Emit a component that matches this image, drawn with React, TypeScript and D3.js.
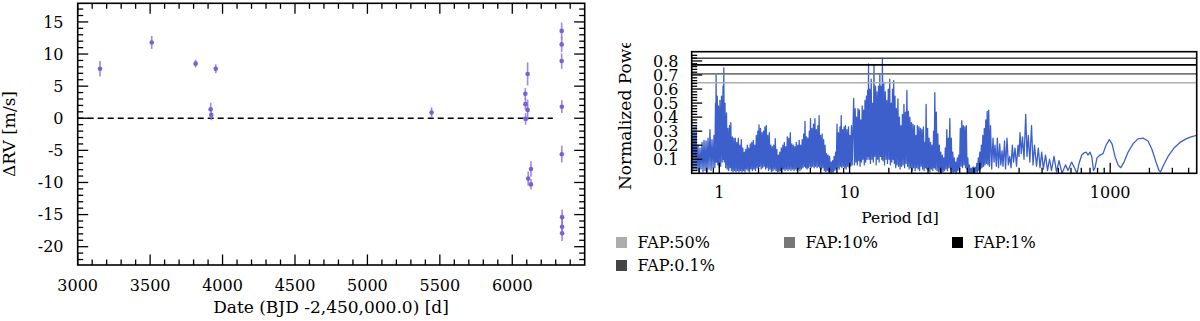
import * as d3 from 'd3';

// radial velocity residuals (left panel)
const rvDates = [3154, 3511, 3814, 3918, 3922, 3953, 5443, 6090, 6091, 6092, 6106, 6106, 6110, 6129, 6129, 6341, 6341, 6341, 6342, 6342, 6344, 6344, 6344];
const rvValues = [7.7, 11.8, 8.5, 1.4, 0.5, 7.7, 0.9, 3.8, 2.2, -0.1, 6.9, 1.3, -9.4, -7.9, -10.3, 13.6, 11.5, 8.9, 1.8, -5.6, -15.4, -16.9, -17.9];
const rvErrors = [1.2, 1.0, 0.6, 1.0, 0.8, 0.7, 0.8, 0.9, 0.9, 0.9, 1.8, 1.6, 1.1, 1.2, 0.8, 1.3, 1.2, 1.2, 1.0, 1.3, 1.2, 1.2, 1.2];

const dateTicks = [3000, 3500, 4000, 4500, 5000, 5500, 6000];
const rvTicks = [-20, -15, -10, -5, 0, 5, 10, 15];

// GLS periodogram (right panel): [period in days, normalized power]
const periodogram: [number, number][] = [
  [0.617, 0.30], [0.628, 0.02], [0.640, 0.33], [0.651, 0.03], [0.663, 0.34], [0.674, 0.02], [0.686, 0.20], [0.699, 0.01],
  [0.711, 0.18], [0.724, 0.03], [0.737, 0.22], [0.750, 0.01], [0.763, 0.235], [0.777, 0.02], [0.791, 0.23], [0.805, 0.01],
  [0.819, 0.25], [0.834, 0.03], [0.848, 0.31], [0.864, 0.02], [0.879, 0.24], [0.895, 0.04], [0.911, 0.27], [0.924, 0.04],
  [0.935, 0.50], [0.940, 0.08], [0.945, 0.70], [0.953, 0.08], [0.964, 0.55], [0.974, 0.06], [0.986, 0.48], [0.998, 0.04],
  [1.012, 0.52], [1.025, 0.05], [1.040, 0.55], [1.053, 0.08], [1.068, 0.62], [1.075, 0.10], [1.083, 0.75], [1.092, 0.08],
  [1.106, 0.50], [1.120, 0.04], [1.136, 0.43], [1.150, 0.03], [1.166, 0.32], [1.181, 0.02], [1.198, 0.34], [1.212, 0.04],
  [1.225, 0.36], [1.241, 0.02], [1.258, 0.26], [1.274, 0.01], [1.292, 0.25], [1.308, 0.02], [1.327, 0.25], [1.343, 0.01],
  [1.362, 0.22], [1.380, 0.02], [1.399, 0.25], [1.417, 0.01], [1.437, 0.20], [1.455, 0.02], [1.475, 0.24], [1.494, 0.01],
  [1.515, 0.18], [1.534, 0.02], [1.556, 0.15], [1.575, 0.01], [1.597, 0.17], [1.617, 0.03], [1.640, 0.20], [1.661, 0.02],
  [1.684, 0.18], [1.705, 0.01], [1.730, 0.21], [1.751, 0.03], [1.776, 0.22], [1.798, 0.02], [1.824, 0.235], [1.847, 0.03],
  [1.873, 0.20], [1.896, 0.02], [1.923, 0.27], [1.947, 0.04], [1.975, 0.30], [1.999, 0.03], [2.017, 0.345], [2.042, 0.05],
  [2.071, 0.32], [2.097, 0.03], [2.127, 0.29], [2.153, 0.04], [2.184, 0.30], [2.211, 0.05], [2.239, 0.33], [2.267, 0.03],
  [2.295, 0.34], [2.323, 0.04], [2.356, 0.27], [2.386, 0.02], [2.420, 0.29], [2.450, 0.03], [2.485, 0.20], [2.516, 0.01],
  [2.552, 0.19], [2.583, 0.02], [2.620, 0.20], [2.653, 0.03], [2.690, 0.247], [2.724, 0.02], [2.763, 0.17], [2.797, 0.01],
  [2.837, 0.13], [2.872, 0.01], [2.913, 0.15], [2.949, 0.02], [2.991, 0.18], [3.029, 0.01], [3.072, 0.20], [3.110, 0.03],
  [3.154, 0.22], [3.193, 0.02], [3.239, 0.19], [3.279, 0.03], [3.326, 0.26], [3.367, 0.02], [3.415, 0.25], [3.458, 0.03],
  [3.507, 0.29], [3.551, 0.02], [3.601, 0.21], [3.646, 0.03], [3.698, 0.20], [3.744, 0.02], [3.797, 0.19], [3.845, 0.03],
  [3.899, 0.22], [3.948, 0.02], [4.004, 0.20], [4.054, 0.03], [4.105, 0.235], [4.156, 0.02], [4.215, 0.20], [4.268, 0.03],
  [4.328, 0.24], [4.382, 0.04], [4.444, 0.28], [4.499, 0.05], [4.547, 0.37], [4.604, 0.04], [4.661, 0.26], [4.719, 0.03],
  [4.778, 0.25], [4.837, 0.04], [4.906, 0.30], [4.967, 0.05], [5.012, 0.39], [5.074, 0.04], [5.146, 0.32], [5.210, 0.05],
  [5.284, 0.35], [5.350, 0.04], [5.417, 0.39], [5.484, 0.05], [5.563, 0.31], [5.632, 0.04], [5.712, 0.34], [5.783, 0.05],
  [5.835, 0.41], [5.907, 0.04], [5.991, 0.27], [6.066, 0.03], [6.152, 0.28], [6.229, 0.04], [6.318, 0.24], [6.396, 0.02],
  [6.487, 0.20], [6.568, 0.01], [6.661, 0.14], [6.744, 0.02], [6.840, 0.13], [6.925, 0.01], [7.024, 0.12], [7.111, 0.01],
  [7.212, 0.08], [7.302, 0.0], [7.406, 0.09], [7.498, 0.01], [7.605, 0.12], [7.700, 0.02], [7.810, 0.15], [7.907, 0.03],
  [8.005, 0.35], [8.105, 0.04], [8.220, 0.29], [8.322, 0.03], [8.441, 0.33], [8.546, 0.05], [8.622, 0.41], [8.729, 0.04],
  [8.853, 0.31], [8.963, 0.05], [9.075, 0.33], [9.188, 0.04], [9.302, 0.34], [9.418, 0.03], [9.552, 0.31], [9.671, 0.05],
  [9.809, 0.33], [9.931, 0.04], [10.07, 0.27], [10.20, 0.05], [10.34, 0.34], [10.47, 0.06], [10.75, 0.533], [10.89, 0.06],
  [11.04, 0.46], [11.18, 0.08], [11.32, 0.40], [11.46, 0.06], [11.60, 0.46], [11.75, 0.09], [11.89, 0.45], [12.04, 0.05],
  [12.19, 0.38], [12.34, 0.08], [12.50, 0.48], [12.65, 0.10], [12.81, 0.45], [12.97, 0.06], [13.13, 0.52], [13.29, 0.08],
  [13.46, 0.55], [13.63, 0.10], [13.75, 0.59], [13.87, 0.12], [13.97, 0.78], [14.09, 0.10], [14.27, 0.60], [14.45, 0.07],
  [14.65, 0.67], [14.83, 0.10], [15.04, 0.50], [15.21, 0.08], [15.39, 0.775], [15.59, 0.12], [15.81, 0.62], [16.00, 0.06],
  [16.23, 0.58], [16.43, 0.10], [16.67, 0.62], [16.85, 0.08], [17.06, 0.705], [17.27, 0.12], [17.48, 0.62], [17.67, 0.10],
  [17.86, 0.82], [18.05, 0.09], [18.31, 0.65], [18.53, 0.06], [18.80, 0.58], [19.03, 0.10], [19.30, 0.52], [19.54, 0.07],
  [19.82, 0.60], [20.07, 0.10], [20.32, 0.67], [20.57, 0.06], [20.83, 0.50], [21.09, 0.08], [21.35, 0.60], [21.58, 0.10],
  [21.81, 0.66], [22.04, 0.07], [22.31, 0.55], [22.59, 0.04], [22.87, 0.46], [23.16, 0.06], [23.49, 0.53], [23.78, 0.05],
  [24.12, 0.40], [24.42, 0.03], [24.77, 0.34], [25.07, 0.05], [25.43, 0.42], [25.75, 0.06], [26.12, 0.49], [26.44, 0.04],
  [26.82, 0.435], [27.15, 0.07], [27.53, 0.59], [27.88, 0.05], [28.28, 0.44], [28.63, 0.03], [29.04, 0.40], [29.40, 0.04],
  [29.82, 0.36], [30.19, 0.02], [30.62, 0.35], [31.00, 0.04], [31.44, 0.34], [31.83, 0.02], [32.29, 0.27], [32.69, 0.04],
  [33.15, 0.34], [33.57, 0.03], [34.04, 0.33], [34.47, 0.02], [34.96, 0.32], [35.40, 0.05], [35.90, 0.31], [36.34, 0.03],
  [36.86, 0.33], [37.32, 0.02], [37.84, 0.22], [38.25, 0.04], [38.66, 0.49], [39.14, 0.03], [39.70, 0.32], [40.19, 0.02],
  [40.76, 0.25], [41.27, 0.01], [41.86, 0.22], [42.38, 0.03], [42.98, 0.20], [43.52, 0.02], [44.13, 0.30], [44.60, 0.04],
  [45.08, 0.575], [45.64, 0.03], [46.29, 0.435], [46.87, 0.02], [47.53, 0.28], [48.12, 0.01], [48.81, 0.20], [49.42, 0.01],
  [50.12, 0.15], [50.74, 0.0], [51.48, 0.13], [52.12, 0.01], [52.86, 0.11], [53.52, 0.02], [54.28, 0.18], [54.96, 0.03],
  [55.74, 0.31], [56.43, 0.02], [57.23, 0.25], [57.95, 0.04], [58.77, 0.39], [59.50, 0.03], [60.34, 0.25], [61.09, 0.01],
  [61.96, 0.15], [62.73, 0.0], [63.63, 0.11], [64.41, 0.01], [65.33, 0.08], [66.14, 0.0], [67.09, 0.11], [67.92, 0.02],
  [68.90, 0.13], [69.76, 0.03], [70.75, 0.32], [71.63, 0.05], [72.65, 0.375], [73.56, 0.04], [74.61, 0.34], [75.54, 0.06],
  [76.61, 0.33], [77.57, 0.04], [78.67, 0.34], [79.65, 0.03], [80.79, 0.11], [81.80, 0.0], [82.96, 0.06], [83.99, 0.0],
  [85.19, 0.035], [86.25, 0.0], [87.48, 0.04], [88.57, 0.0], [89.82, 0.045], [90.94, 0.0], [92.24, 0.04], [93.39, 0.01],
  [94.72, 0.07], [95.90, 0.01], [97.26, 0.11], [98.47, 0.02], [99.87, 0.15], [101.1, 0.03], [102.6, 0.20], [103.8, 0.04],
  [105.3, 0.27], [106.6, 0.05], [108.1, 0.32], [109.5, 0.06], [111.0, 0.38], [112.4, 0.07], [113.8, 0.44], [115.4, 0.06],
  [116.9, 0.45], [118.5, 0.05], [120.6, 0.34], [123.2, 0.03], [126.1, 0.25], [128.4, 0.08], [130.6, 0.20], [133.7, 0.05],
  [136.1, 0.25], [139.0, 0.04], [142.0, 0.21], [144.8, 0.06], [147.9, 0.16], [150.5, 0.05], [154.6, 0.23], [157.3, 0.03],
  [161.5, 0.25], [165.3, 0.06], [169.4, 0.12], [173.4, 0.04], [177.4, 0.20], [181.2, 0.08], [186.0, 0.18], [191.0, 0.05],
  [196.2, 0.20], [199.7, 0.12], [203.2, 0.29], [207.9, 0.14], [212.4, 0.26], [218.1, 0.10], [224.8, 0.42], [230.0, 0.12],
  [235.3, 0.27], [241.7, 0.08], [249.0, 0.34], [255.7, 0.06], [262.6, 0.20], [272.1, 0.05], [280.8, 0.18], [289.4, 0.04],
  [298.2, 0.15], [306.8, 0.03], [319.0, 0.13], [330.4, 0.02], [342.3, 0.10], [354.6, 0.02], [370.6, 0.12], [387.4, 0.01],
  [405.0, 0.09], [426.9, 0.0], [454.1, 0.06], [474.6, 0.02], [506.7, 0.08], [556.4, 0.0], [576.5, 0.07], [604.7, 0.13],
  [629.8, 0.145], [655.9, 0.15], [676.0, 0.13], [700.3, 0.15], [721.7, 0.12], [744.8, 0.02], [764.8, 0.04], [792.3, 0.11],
  [835.5, 0.13], [881.0, 0.14], [928.9, 0.20], [984.8, 0.24], [1033, 0.21], [1089, 0.12], [1149, 0.06], [1205, 0.04],
  [1277, 0.08], [1371, 0.15], [1497, 0.21], [1636, 0.245], [1796, 0.25], [1951, 0.23], [2094, 0.17], [2248, 0.08],
  [2370, 0.02], [2433, 0.01], [2543, 0.05], [2778, 0.12], [3089, 0.18], [3434, 0.22], [3818, 0.245], [4171, 0.26],
  [4613, 0.27],
];

const periodTicks = [1, 10, 100, 1000];
const powerTicks = [0.1, 0.2, 0.3, 0.4, 0.5, 0.6, 0.7, 0.8];

const fapLabels = ['FAP:50%', 'FAP:10%', 'FAP:1%', 'FAP:0.1%'];
const fapLevels = [0.645, 0.708, 0.772, 0.819];
const fapColors = ['#adadad', '#777777', '#000000', '#444444'];

const FONT = '"DejaVu Serif", serif';
const MAJOR = 10.5;
const MINOR = 5.5;
const TICK_FS = 16;
const LABEL_FS = 17;

export default function App() {
  // left panel
  const x = d3.scaleLinear().domain([3000, 6500]).range([77.7, 584.7]);
  const y = d3.scaleLinear().domain([17.9, -22.85]).range([3.3, 265]);
  const [x0, x1] = x.range();
  const [y0, y1] = y.range();
  const xMinor = d3.range(3100, 6500, 100).filter((d) => d % 500 !== 0);
  const yMinor = d3.range(-22, 18, 1).filter((d) => d % 5 !== 0);

  // right panel
  const px = d3.scaleLog().domain([0.614, 4613]).range([691.7, 1196.7]);
  const py = d3.scaleLinear().domain([0, 0.866]).range([173.3, 51.7]);
  const [px0, px1] = px.range();
  const [py0, py1] = py.range();
  const pMinor: number[] = [];
  [0.1, 1, 10, 100, 1000].forEach((dec) => {
    for (let k = 2; k <= 9; k++) {
      const v = dec * k;
      if (v > 0.614 && v < 4613) pMinor.push(v);
    }
  });
  const powMinor = d3.range(0.02, 0.86, 0.02).filter((d) => Math.abs(d * 10 - Math.round(d * 10)) > 0.01);

  const line = d3
    .line<[number, number]>()
    .x((d) => px(d[0]))
    .y((d) => py(d[1]));

  const tickStroke = { stroke: '#000', strokeWidth: 1.3 };

  const legendPos = [
    [616, 237],
    [784, 237],
    [952, 237],
    [616, 260],
  ];

  return (
    <svg
      width={1200}
      height={321}
      style={{ position: 'absolute', left: 0, top: 0, background: '#fff' }}
      fontFamily={FONT}
    >
      <defs>
        <clipPath id="ylabClip">
          <rect x={600} y={43} width={60} height={200} />
        </clipPath>
      </defs>

      {/* ---------- left panel ---------- */}
      <line x1={x0} x2={x(6280)} y1={y(0)} y2={y(0)} stroke="#000" strokeWidth={1.4} strokeDasharray="6,4" />

      {rvDates.map((d, i) => (
        <line
          key={'e' + i}
          x1={x(d)}
          x2={x(d)}
          y1={y(rvValues[i] - rvErrors[i])}
          y2={y(rvValues[i] + rvErrors[i])}
          stroke="#8c76e3"
          strokeWidth={1.6}
          opacity={0.85}
        />
      ))}
      {rvDates.map((d, i) => (
        <circle key={'p' + i} cx={x(d)} cy={y(rvValues[i])} r={2.3} fill="#7a5fd8" />
      ))}

      {/* ticks */}
      {dateTicks.map((d) => (
        <g key={'xt' + d}>
          <line x1={x(d)} x2={x(d)} y1={y1} y2={y1 - MAJOR} {...tickStroke} />
          <line x1={x(d)} x2={x(d)} y1={y0} y2={y0 + MAJOR} {...tickStroke} />
          <text x={x(d)} y={290.5} textAnchor="middle" fontSize={TICK_FS}>
            {d}
          </text>
        </g>
      ))}
      {xMinor.map((d) => (
        <g key={'xm' + d}>
          <line x1={x(d)} x2={x(d)} y1={y1} y2={y1 - MINOR} {...tickStroke} />
          <line x1={x(d)} x2={x(d)} y1={y0} y2={y0 + MINOR} {...tickStroke} />
        </g>
      ))}
      {rvTicks.map((d) => (
        <g key={'yt' + d}>
          <line x1={x0} x2={x0 + MAJOR} y1={y(d)} y2={y(d)} {...tickStroke} />
          <line x1={x1} x2={x1 - MAJOR} y1={y(d)} y2={y(d)} {...tickStroke} />
          <text x={63.5} y={y(d)} dy="0.36em" textAnchor="end" fontSize={TICK_FS}>
            {d}
          </text>
        </g>
      ))}
      {yMinor.map((d) => (
        <g key={'ym' + d}>
          <line x1={x0} x2={x0 + MINOR} y1={y(d)} y2={y(d)} {...tickStroke} />
          <line x1={x1} x2={x1 - MINOR} y1={y(d)} y2={y(d)} {...tickStroke} />
        </g>
      ))}
      <rect x={x0} y={y0} width={x1 - x0} height={y1 - y0} fill="none" stroke="#000" strokeWidth={1.6} />

      <text x={331} y={313} textAnchor="middle" fontSize={LABEL_FS}>
        Date (BJD -2,450,000.0) [d]
      </text>
      <text transform="translate(15,134) rotate(-90)" textAnchor="middle" fontSize={LABEL_FS}>
        ΔRV [m/s]
      </text>

      {/* ---------- right panel ---------- */}
      <path d={line(periodogram) ?? ''} fill="none" stroke="#3c5fcb" strokeWidth={1.3} strokeLinejoin="round" />

      {fapLevels.map((lv, i) => (
        <line key={'fap' + i} x1={px0} x2={px1} y1={py(lv)} y2={py(lv)} stroke={fapColors[i]} strokeWidth={1.6} />
      ))}

      {periodTicks.map((d) => (
        <g key={'pt' + d}>
          <line x1={px(d)} x2={px(d)} y1={py0} y2={py0 - MAJOR} {...tickStroke} />
          <text x={px(d)} y={197.5} textAnchor="middle" fontSize={TICK_FS}>
            {d}
          </text>
        </g>
      ))}
      {pMinor.map((d) => (
        <line key={'pm' + d} x1={px(d)} x2={px(d)} y1={py0} y2={py0 - MINOR} {...tickStroke} />
      ))}
      {powerTicks.map((d) => (
        <g key={'wt' + d}>
          <line x1={px0} x2={px0 + MAJOR} y1={py(d)} y2={py(d)} {...tickStroke} />
          <text x={678.5} y={py(d)} dy="0.36em" textAnchor="end" fontSize={TICK_FS}>
            {d.toFixed(1)}
          </text>
        </g>
      ))}
      {powMinor.map((d) => (
        <line key={'wm' + d} x1={px0} x2={px0 + MINOR} y1={py(d)} y2={py(d)} {...tickStroke} />
      ))}
      <rect x={px0} y={py1} width={px1 - px0} height={py0 - py1} fill="none" stroke="#000" strokeWidth={1.6} />

      <text x={900} y={222.5} textAnchor="middle" fontSize={15.5}>
        Period [d]
      </text>
      <g clipPath="url(#ylabClip)">
        <text transform="translate(631,190) rotate(-90)" textAnchor="start" fontSize={LABEL_FS}>
          Normalized Power
        </text>
      </g>

      {fapLabels.map((lab, i) => (
        <g key={'lg' + i}>
          <rect x={legendPos[i][0]} y={legendPos[i][1]} width={11} height={11} fill={fapColors[i]} />
          <text x={legendPos[i][0] + 21.5} y={legendPos[i][1] + 10.5} fontSize={16}>
            {lab}
          </text>
        </g>
      ))}
    </svg>
  );
}
